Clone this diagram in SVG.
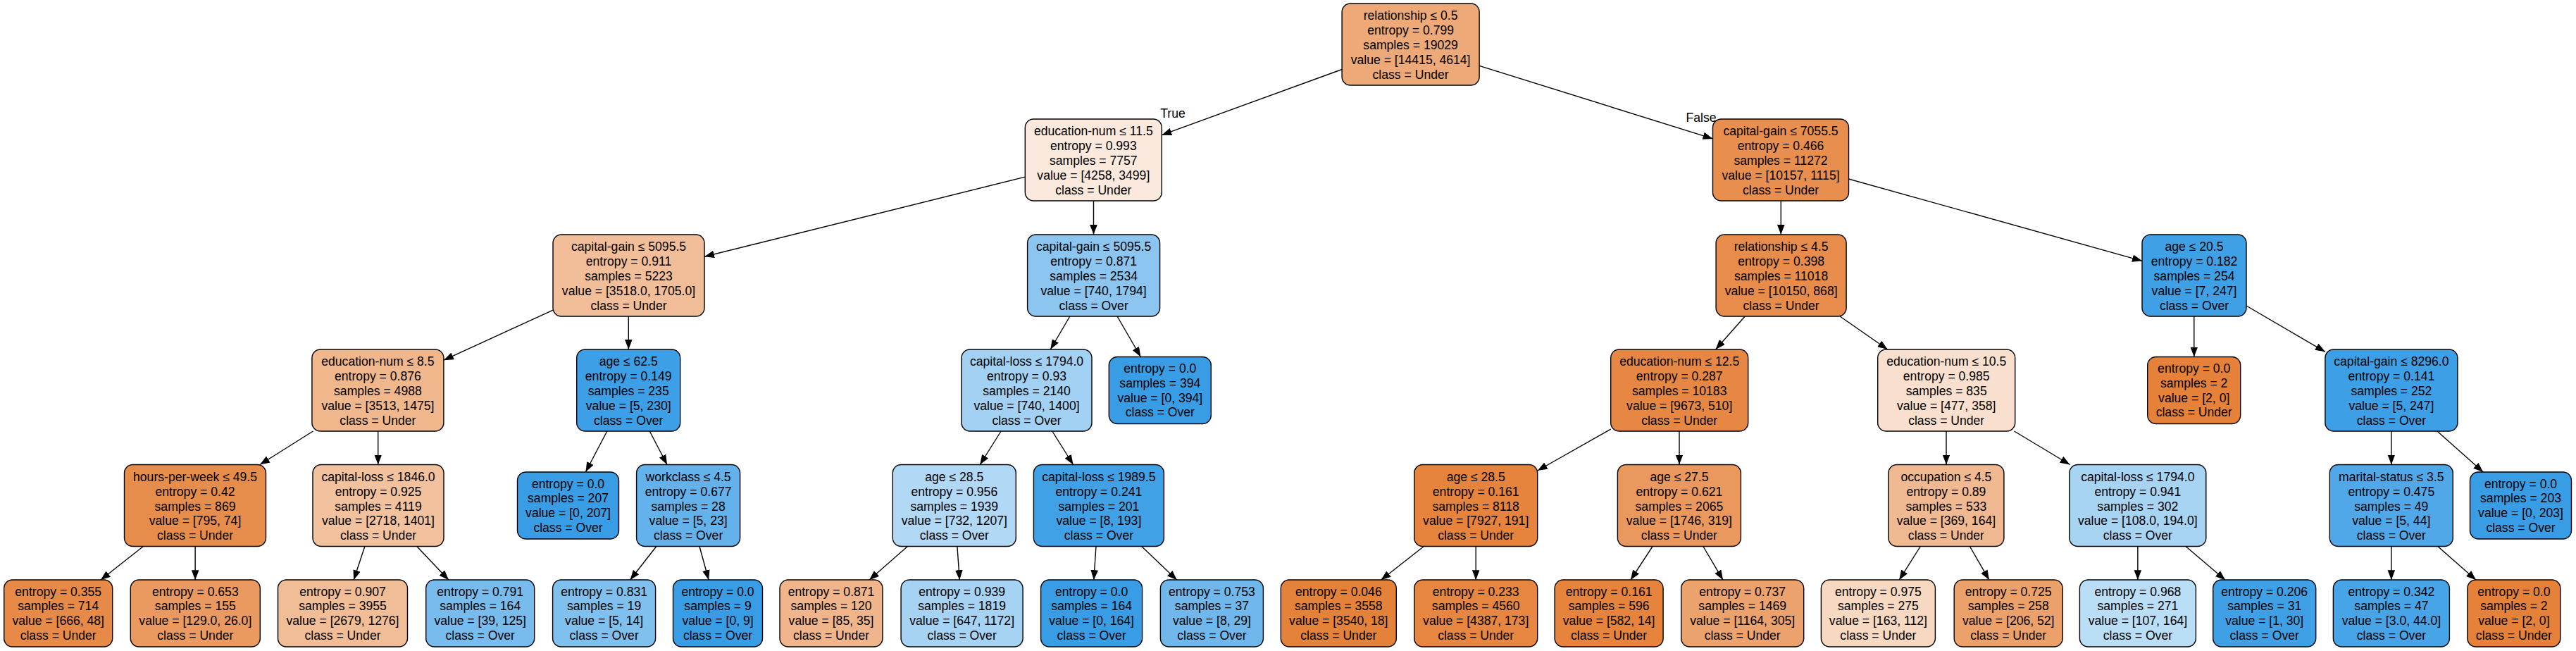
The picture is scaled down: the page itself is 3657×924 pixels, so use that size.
<svg xmlns="http://www.w3.org/2000/svg" width="3657" height="924" viewBox="0 0 3657 924">
<style>
text{font-family:"Liberation Sans",Arial,Helvetica,sans-serif;font-size:17.6px;text-anchor:middle;fill:#000}
.nd rect{stroke:#000;stroke-width:1.4}
.e line{stroke:#000;stroke-width:1.4;fill:none;marker-end:url(#ah)}
</style>
<defs>
<marker id="ah" viewBox="0 0 15 11" refX="14" refY="5.3" markerWidth="15" markerHeight="11" orient="auto" markerUnits="userSpaceOnUse"><path d="M0,0 L14,5.3 L0,10.6 z" fill="#000"/></marker>
</defs>
<rect width="3657" height="924" fill="#fff"/>
<g id="connectors" class="e">
<line x1="1905.1" y1="98.5" x2="1649.3" y2="191.7"/>
<line x1="2100.1" y1="93.4" x2="2431.5" y2="196.9"/>
<line x1="1455.3" y1="251.1" x2="1000" y2="364.3"/>
<line x1="1552.5" y1="285" x2="1552.5" y2="333"/>
<line x1="2528.3" y1="285" x2="2528.3" y2="333"/>
<line x1="2624.5" y1="254" x2="3041" y2="370.3"/>
<line x1="785" y1="440.2" x2="629.9" y2="511.2"/>
<line x1="892.3" y1="449" x2="892.3" y2="496"/>
<line x1="1518.8" y1="449" x2="1491.3" y2="496"/>
<line x1="1586.1" y1="449" x2="1619.4" y2="506.5"/>
<line x1="2477.2" y1="449" x2="2435.6" y2="496"/>
<line x1="2612.1" y1="449" x2="2679.7" y2="496"/>
<line x1="3114.8" y1="449" x2="3114.8" y2="506.5"/>
<line x1="3189" y1="434" x2="3300.9" y2="499.3"/>
<line x1="444.4" y1="612" x2="369" y2="659.5"/>
<line x1="536.7" y1="612" x2="536.7" y2="659.5"/>
<line x1="861.8" y1="612" x2="831.4" y2="670"/>
<line x1="922.3" y1="612" x2="947" y2="659.5"/>
<line x1="1421.1" y1="612" x2="1391.2" y2="659.5"/>
<line x1="1493.8" y1="612" x2="1523.6" y2="659.5"/>
<line x1="2286.7" y1="609.1" x2="2182.7" y2="668"/>
<line x1="2384" y1="612" x2="2384" y2="659.5"/>
<line x1="2763" y1="612" x2="2763" y2="659.5"/>
<line x1="2859.5" y1="612" x2="2938.5" y2="659.5"/>
<line x1="3394.85" y1="612" x2="3394.85" y2="659.5"/>
<line x1="3460" y1="612" x2="3525.2" y2="670"/>
<line x1="203.4" y1="775.5" x2="142.8" y2="823.2"/>
<line x1="277.15" y1="775.5" x2="277.15" y2="823.2"/>
<line x1="517.9" y1="775.5" x2="502.1" y2="823.2"/>
<line x1="591.8" y1="775.5" x2="637" y2="823.2"/>
<line x1="931.8" y1="775.5" x2="894.5" y2="823.2"/>
<line x1="993" y1="775.5" x2="1006.1" y2="823.2"/>
<line x1="1288.5" y1="775.5" x2="1234" y2="823.2"/>
<line x1="1358.9" y1="775.5" x2="1362.3" y2="823.2"/>
<line x1="1556" y1="775.5" x2="1552.8" y2="823.2"/>
<line x1="1620.7" y1="775.5" x2="1670.8" y2="823.2"/>
<line x1="2021.3" y1="775.5" x2="1960.5" y2="823.2"/>
<line x1="2095.2" y1="775.5" x2="2095.2" y2="823.2"/>
<line x1="2346.1" y1="775.5" x2="2314.9" y2="823.2"/>
<line x1="2417.9" y1="775.5" x2="2446" y2="823.2"/>
<line x1="2726.3" y1="775.5" x2="2696.2" y2="823.2"/>
<line x1="2796.4" y1="775.5" x2="2823.9" y2="823.2"/>
<line x1="3034.85" y1="775.5" x2="3034.85" y2="823.2"/>
<line x1="3103" y1="775.5" x2="3159.1" y2="823.2"/>
<line x1="3394.85" y1="775.5" x2="3394.85" y2="823.2"/>
<line x1="3460.8" y1="775.5" x2="3515.1" y2="823.2"/>
</g>
<g id="edge-labels">
<text x="1665" y="167">True</text>
<text x="2415" y="173">False</text>
</g>
<g id="n0" class="nd" transform="translate(2002.6,63)"><rect x="-97.5" y="-58" width="195" height="116" rx="12" fill="#eda978"/><text y="-34.6">relationship ≤ 0.5</text><text y="-13.8">entropy = 0.799</text><text y="7">samples = 19029</text><text y="27.8">value = [14415, 4614]</text><text y="48.6">class = Under</text></g>
<g id="n1" class="nd" transform="translate(1552.3,227)"><rect x="-97" y="-58" width="194" height="116" rx="12" fill="#fae9dc"/><text y="-34.6">education-num ≤ 11.5</text><text y="-13.8">entropy = 0.993</text><text y="7">samples = 7757</text><text y="27.8">value = [4258, 3499]</text><text y="48.6">class = Under</text></g>
<g id="n2" class="nd" transform="translate(2528,227)"><rect x="-96.5" y="-58" width="193" height="116" rx="12" fill="#e88f4f"/><text y="-34.6">capital-gain ≤ 7055.5</text><text y="-13.8">entropy = 0.466</text><text y="7">samples = 11272</text><text y="27.8">value = [10157, 1115]</text><text y="48.6">class = Under</text></g>
<g id="n3" class="nd" transform="translate(892.5,391)"><rect x="-107.5" y="-58" width="215" height="116" rx="12" fill="#f2be99"/><text y="-34.6">capital-gain ≤ 5095.5</text><text y="-13.8">entropy = 0.911</text><text y="7">samples = 5223</text><text y="27.8">value = [3518.0, 1705.0]</text><text y="48.6">class = Under</text></g>
<g id="n4" class="nd" transform="translate(1552.6,391)"><rect x="-94" y="-58" width="188" height="116" rx="12" fill="#8bc5f0"/><text y="-34.6">capital-gain ≤ 5095.5</text><text y="-13.8">entropy = 0.871</text><text y="7">samples = 2534</text><text y="27.8">value = [740, 1794]</text><text y="48.6">class = Over</text></g>
<g id="n5" class="nd" transform="translate(2528.6,391)"><rect x="-92.5" y="-58" width="185" height="116" rx="12" fill="#e78c4a"/><text y="-34.6">relationship ≤ 4.5</text><text y="-13.8">entropy = 0.398</text><text y="7">samples = 11018</text><text y="27.8">value = [10150, 868]</text><text y="48.6">class = Under</text></g>
<g id="n6" class="nd" transform="translate(3115,391)"><rect x="-74" y="-58" width="148" height="116" rx="12" fill="#3fa0e6"/><text y="-34.6">age ≤ 20.5</text><text y="-13.8">entropy = 0.182</text><text y="7">samples = 254</text><text y="27.8">value = [7, 247]</text><text y="48.6">class = Over</text></g>
<g id="n7" class="nd" transform="translate(536.4,554)"><rect x="-93.5" y="-58" width="187" height="116" rx="12" fill="#f0b68c"/><text y="-34.6">education-num ≤ 8.5</text><text y="-13.8">entropy = 0.876</text><text y="7">samples = 4988</text><text y="27.8">value = [3513, 1475]</text><text y="48.6">class = Under</text></g>
<g id="n8" class="nd" transform="translate(892.2,554)"><rect x="-73.5" y="-58" width="147" height="116" rx="12" fill="#3d9fe6"/><text y="-34.6">age ≤ 62.5</text><text y="-13.8">entropy = 0.149</text><text y="7">samples = 235</text><text y="27.8">value = [5, 230]</text><text y="48.6">class = Over</text></g>
<g id="n9" class="nd" transform="translate(1457.5,554)"><rect x="-92.5" y="-58" width="185" height="116" rx="12" fill="#a2d1f3"/><text y="-34.6">capital-loss ≤ 1794.0</text><text y="-13.8">entropy = 0.93</text><text y="7">samples = 2140</text><text y="27.8">value = [740, 1400]</text><text y="48.6">class = Over</text></g>
<g id="n10" class="nd" transform="translate(1646.8,554)"><rect x="-72.5" y="-47.5" width="145" height="95" rx="12" fill="#399de5"/><text y="-25">entropy = 0.0</text><text y="-4.2">samples = 394</text><text y="16.6">value = [0, 394]</text><text y="37.4">class = Over</text></g>
<g id="n11" class="nd" transform="translate(2384.2,554)"><rect x="-97.5" y="-58" width="195" height="116" rx="12" fill="#e68843"/><text y="-34.6">education-num ≤ 12.5</text><text y="-13.8">entropy = 0.287</text><text y="7">samples = 10183</text><text y="27.8">value = [9673, 510]</text><text y="48.6">class = Under</text></g>
<g id="n12" class="nd" transform="translate(2763.2,554)"><rect x="-97.5" y="-58" width="195" height="116" rx="12" fill="#f9e0ce"/><text y="-34.6">education-num ≤ 10.5</text><text y="-13.8">entropy = 0.985</text><text y="7">samples = 835</text><text y="27.8">value = [477, 358]</text><text y="48.6">class = Under</text></g>
<g id="n13" class="nd" transform="translate(3114.7,554)"><rect x="-66" y="-47.5" width="132" height="95" rx="12" fill="#e58139"/><text y="-25">entropy = 0.0</text><text y="-4.2">samples = 2</text><text y="16.6">value = [2, 0]</text><text y="37.4">class = Under</text></g>
<g id="n14" class="nd" transform="translate(3394.9,554)"><rect x="-94" y="-58" width="188" height="116" rx="12" fill="#3d9fe6"/><text y="-34.6">capital-gain ≤ 8296.0</text><text y="-13.8">entropy = 0.141</text><text y="7">samples = 252</text><text y="27.8">value = [5, 247]</text><text y="48.6">class = Over</text></g>
<g id="n15" class="nd" transform="translate(277,717.5)"><rect x="-100.5" y="-58" width="201" height="116" rx="12" fill="#e78d4b"/><text y="-34.6">hours-per-week ≤ 49.5</text><text y="-13.8">entropy = 0.42</text><text y="7">samples = 869</text><text y="27.8">value = [795, 74]</text><text y="48.6">class = Under</text></g>
<g id="n16" class="nd" transform="translate(537,717.5)"><rect x="-93" y="-58" width="186" height="116" rx="12" fill="#f2c29f"/><text y="-34.6">capital-loss ≤ 1846.0</text><text y="-13.8">entropy = 0.925</text><text y="7">samples = 4119</text><text y="27.8">value = [2718, 1401]</text><text y="48.6">class = Under</text></g>
<g id="n17" class="nd" transform="translate(806.5,717.5)"><rect x="-72" y="-47.5" width="144" height="95" rx="12" fill="#399de5"/><text y="-25">entropy = 0.0</text><text y="-4.2">samples = 207</text><text y="16.6">value = [0, 207]</text><text y="37.4">class = Over</text></g>
<g id="n18" class="nd" transform="translate(977.1,717.5)"><rect x="-73.5" y="-58" width="147" height="116" rx="12" fill="#64b2eb"/><text y="-34.6">workclass ≤ 4.5</text><text y="-13.8">entropy = 0.677</text><text y="7">samples = 28</text><text y="27.8">value = [5, 23]</text><text y="48.6">class = Over</text></g>
<g id="n19" class="nd" transform="translate(1354.8,717.5)"><rect x="-87.5" y="-58" width="175" height="116" rx="12" fill="#b1d8f5"/><text y="-34.6">age ≤ 28.5</text><text y="-13.8">entropy = 0.956</text><text y="7">samples = 1939</text><text y="27.8">value = [732, 1207]</text><text y="48.6">class = Over</text></g>
<g id="n20" class="nd" transform="translate(1559.9,717.5)"><rect x="-92.5" y="-58" width="185" height="116" rx="12" fill="#41a1e6"/><text y="-34.6">capital-loss ≤ 1989.5</text><text y="-13.8">entropy = 0.241</text><text y="7">samples = 201</text><text y="27.8">value = [8, 193]</text><text y="48.6">class = Over</text></g>
<g id="n21" class="nd" transform="translate(2095.2,717.5)"><rect x="-87.5" y="-58" width="175" height="116" rx="12" fill="#e6843e"/><text y="-34.6">age ≤ 28.5</text><text y="-13.8">entropy = 0.161</text><text y="7">samples = 8118</text><text y="27.8">value = [7927, 191]</text><text y="48.6">class = Under</text></g>
<g id="n22" class="nd" transform="translate(2383.9,717.5)"><rect x="-87.5" y="-58" width="175" height="116" rx="12" fill="#ea985d"/><text y="-34.6">age ≤ 27.5</text><text y="-13.8">entropy = 0.621</text><text y="7">samples = 2065</text><text y="27.8">value = [1746, 319]</text><text y="48.6">class = Under</text></g>
<g id="n23" class="nd" transform="translate(2762.9,717.5)"><rect x="-82" y="-58" width="164" height="116" rx="12" fill="#f1b991"/><text y="-34.6">occupation ≤ 4.5</text><text y="-13.8">entropy = 0.89</text><text y="7">samples = 533</text><text y="27.8">value = [369, 164]</text><text y="48.6">class = Under</text></g>
<g id="n24" class="nd" transform="translate(3034.8,717.5)"><rect x="-97" y="-58" width="194" height="116" rx="12" fill="#a7d4f3"/><text y="-34.6">capital-loss ≤ 1794.0</text><text y="-13.8">entropy = 0.941</text><text y="7">samples = 302</text><text y="27.8">value = [108.0, 194.0]</text><text y="48.6">class = Over</text></g>
<g id="n25" class="nd" transform="translate(3394.8,717.5)"><rect x="-87.5" y="-58" width="175" height="116" rx="12" fill="#50a8e8"/><text y="-34.6">marital-status ≤ 3.5</text><text y="-13.8">entropy = 0.475</text><text y="7">samples = 49</text><text y="27.8">value = [5, 44]</text><text y="48.6">class = Over</text></g>
<g id="n26" class="nd" transform="translate(3578.5,717.5)"><rect x="-72" y="-47.5" width="144" height="95" rx="12" fill="#399de5"/><text y="-25">entropy = 0.0</text><text y="-4.2">samples = 203</text><text y="16.6">value = [0, 203]</text><text y="37.4">class = Over</text></g>
<g id="l1" class="nd" transform="translate(82.7,870.5)"><rect x="-77" y="-47.5" width="154" height="95" rx="12" fill="#e78a47"/><text y="-25">entropy = 0.355</text><text y="-4.2">samples = 714</text><text y="16.6">value = [666, 48]</text><text y="37.4">class = Under</text></g>
<g id="l2" class="nd" transform="translate(277.3,870.5)"><rect x="-92" y="-47.5" width="184" height="95" rx="12" fill="#ea9a61"/><text y="-25">entropy = 0.653</text><text y="-4.2">samples = 155</text><text y="16.6">value = [129.0, 26.0]</text><text y="37.4">class = Under</text></g>
<g id="l3" class="nd" transform="translate(486.5,870.5)"><rect x="-92" y="-47.5" width="184" height="95" rx="12" fill="#f1bd97"/><text y="-25">entropy = 0.907</text><text y="-4.2">samples = 3955</text><text y="16.6">value = [2679, 1276]</text><text y="37.4">class = Under</text></g>
<g id="l4" class="nd" transform="translate(681.7,870.5)"><rect x="-77" y="-47.5" width="154" height="95" rx="12" fill="#77bced"/><text y="-25">entropy = 0.791</text><text y="-4.2">samples = 164</text><text y="16.6">value = [39, 125]</text><text y="37.4">class = Over</text></g>
<g id="l5" class="nd" transform="translate(857.6,870.5)"><rect x="-73" y="-47.5" width="146" height="95" rx="12" fill="#80c0ee"/><text y="-25">entropy = 0.831</text><text y="-4.2">samples = 19</text><text y="16.6">value = [5, 14]</text><text y="37.4">class = Over</text></g>
<g id="l6" class="nd" transform="translate(1019,870.5)"><rect x="-63.5" y="-47.5" width="127" height="95" rx="12" fill="#399de5"/><text y="-25">entropy = 0.0</text><text y="-4.2">samples = 9</text><text y="16.6">value = [0, 9]</text><text y="37.4">class = Over</text></g>
<g id="l7" class="nd" transform="translate(1180,870.5)"><rect x="-73" y="-47.5" width="146" height="95" rx="12" fill="#f0b58b"/><text y="-25">entropy = 0.871</text><text y="-4.2">samples = 120</text><text y="16.6">value = [85, 35]</text><text y="37.4">class = Under</text></g>
<g id="l8" class="nd" transform="translate(1365.6,870.5)"><rect x="-86.5" y="-47.5" width="173" height="95" rx="12" fill="#a6d3f3"/><text y="-25">entropy = 0.939</text><text y="-4.2">samples = 1819</text><text y="16.6">value = [647, 1172]</text><text y="37.4">class = Over</text></g>
<g id="l9" class="nd" transform="translate(1549.6,870.5)"><rect x="-72" y="-47.5" width="144" height="95" rx="12" fill="#399de5"/><text y="-25">entropy = 0.0</text><text y="-4.2">samples = 164</text><text y="16.6">value = [0, 164]</text><text y="37.4">class = Over</text></g>
<g id="l10" class="nd" transform="translate(1720.4,870.5)"><rect x="-73" y="-47.5" width="146" height="95" rx="12" fill="#70b8ec"/><text y="-25">entropy = 0.753</text><text y="-4.2">samples = 37</text><text y="16.6">value = [8, 29]</text><text y="37.4">class = Over</text></g>
<g id="l11" class="nd" transform="translate(1900.3,870.5)"><rect x="-82" y="-47.5" width="164" height="95" rx="12" fill="#e5823a"/><text y="-25">entropy = 0.046</text><text y="-4.2">samples = 3558</text><text y="16.6">value = [3540, 18]</text><text y="37.4">class = Under</text></g>
<g id="l12" class="nd" transform="translate(2095.2,870.5)"><rect x="-87.5" y="-47.5" width="175" height="95" rx="12" fill="#e68641"/><text y="-25">entropy = 0.233</text><text y="-4.2">samples = 4560</text><text y="16.6">value = [4387, 173]</text><text y="37.4">class = Under</text></g>
<g id="l13" class="nd" transform="translate(2284.1,870.5)"><rect x="-77" y="-47.5" width="154" height="95" rx="12" fill="#e6843e"/><text y="-25">entropy = 0.161</text><text y="-4.2">samples = 596</text><text y="16.6">value = [582, 14]</text><text y="37.4">class = Under</text></g>
<g id="l14" class="nd" transform="translate(2473.7,870.5)"><rect x="-87" y="-47.5" width="174" height="95" rx="12" fill="#eca26d"/><text y="-25">entropy = 0.737</text><text y="-4.2">samples = 1469</text><text y="16.6">value = [1164, 305]</text><text y="37.4">class = Under</text></g>
<g id="l15" class="nd" transform="translate(2666.4,870.5)"><rect x="-81" y="-47.5" width="162" height="95" rx="12" fill="#f7d8c1"/><text y="-25">entropy = 0.975</text><text y="-4.2">samples = 275</text><text y="16.6">value = [163, 112]</text><text y="37.4">class = Under</text></g>
<g id="l16" class="nd" transform="translate(2851.2,870.5)"><rect x="-77" y="-47.5" width="154" height="95" rx="12" fill="#eca16b"/><text y="-25">entropy = 0.725</text><text y="-4.2">samples = 258</text><text y="16.6">value = [206, 52]</text><text y="37.4">class = Under</text></g>
<g id="l17" class="nd" transform="translate(3034.9,870.5)"><rect x="-82.5" y="-47.5" width="165" height="95" rx="12" fill="#badef6"/><text y="-25">entropy = 0.968</text><text y="-4.2">samples = 271</text><text y="16.6">value = [107, 164]</text><text y="37.4">class = Over</text></g>
<g id="l18" class="nd" transform="translate(3214.7,870.5)"><rect x="-73" y="-47.5" width="146" height="95" rx="12" fill="#40a0e6"/><text y="-25">entropy = 0.206</text><text y="-4.2">samples = 31</text><text y="16.6">value = [1, 30]</text><text y="37.4">class = Over</text></g>
<g id="l19" class="nd" transform="translate(3394.9,870.5)"><rect x="-82.5" y="-47.5" width="165" height="95" rx="12" fill="#46a4e7"/><text y="-25">entropy = 0.342</text><text y="-4.2">samples = 47</text><text y="16.6">value = [3.0, 44.0]</text><text y="37.4">class = Over</text></g>
<g id="l20" class="nd" transform="translate(3568.9,870.5)"><rect x="-66" y="-47.5" width="132" height="95" rx="12" fill="#e58139"/><text y="-25">entropy = 0.0</text><text y="-4.2">samples = 2</text><text y="16.6">value = [2, 0]</text><text y="37.4">class = Under</text></g>
</svg>
